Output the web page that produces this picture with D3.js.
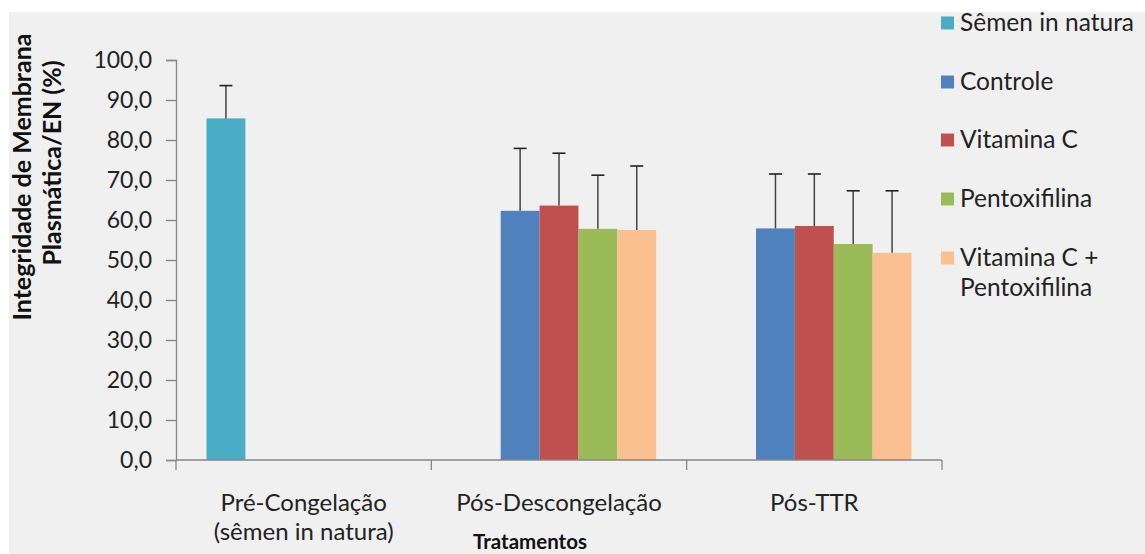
<!DOCTYPE html>
<html><head><meta charset="utf-8">
<script src="https://cdn.jsdelivr.net/npm/d3@7"></script>
<style>
html,body{margin:0;padding:0;background:#fff;}
svg{display:block;font-family:Lato, "Open Sans", sans-serif;}
</style></head>
<body><svg id="chart" width="1145" height="554"></svg>
<script>
const categories = ["Pré-Congelação|(sêmen in natura)", "Pós-Descongelação", "Pós-TTR"];
const seriesNames = ["Sêmen in natura", "Controle", "Vitamina C", "Pentoxifilina", "Vitamina C +|Pentoxifilina"];
const seriesColors = ["#4BACC6", "#4F81BD", "#C0504D", "#9BBB59", "#FAC090"];
// values per series across categories (null = no bar)
const semenValues      = [85.4, null, null];
const controleValues   = [null, 62.3, 57.9];
const vitCValues       = [null, 63.6, 58.5];
const pentoValues      = [null, 57.8, 54.0];
const vitCPentoValues  = [null, 57.5, 51.8];
const semenErr     = [8.2, null, null];
const controleErr  = [null, 15.6, 13.6];
const vitCErr      = [null, 13.1, 13.0];
const pentoErr     = [null, 13.4, 13.3];
const vitCPentoErr = [null, 16.0, 15.5];
const yTicks = [0,10,20,30,40,50,60,70,80,90,100];
const yTitle = ["Integridade de Membrana", "Plasmática/EN (%)"];
const xTitle = "Tratamentos";

(function(){
const values = [semenValues, controleValues, vitCValues, pentoValues, vitCPentoValues];
const errs = [semenErr, controleErr, vitCErr, pentoErr, vitCPentoErr];

const svg = d3.select("#chart");
svg.append("rect").attr("x",9).attr("y",12).attr("width",1145-9).attr("height",554-12).attr("fill","#f0f0f0");

const pLeft = 176, pRight = 942, pTop = 60, pBottom = 460;
const y = d3.scaleLinear().domain([0,100]).range([pBottom, pTop]);
const x0 = d3.scaleBand().domain(categories).range([pLeft, pRight]).paddingInner(0).paddingOuter(0);
const pad = 30.5;
const x1 = d3.scaleBand().domain(seriesNames).range([pad, x0.bandwidth()-pad]);

const axisColor = "#868686";
// y axis
const yAxis = svg.append("g").attr("transform",`translate(${pLeft},0)`)
  .call(d3.axisLeft(y).tickValues(yTicks).tickSize(10).tickPadding(14).tickFormat(d => d3.format(".1f")(d).replace(".",",")));
yAxis.select(".domain").attr("stroke",axisColor).attr("stroke-width",1.3);
yAxis.selectAll(".tick line").attr("stroke",axisColor).attr("stroke-width",1.3);
yAxis.selectAll(".tick text").attr("fill","#222").attr("font-size",23).attr("font-family","Lato");

// bars
values.forEach((vals, si) => {
  categories.forEach((c, ci) => {
    const v = vals[ci];
    if (v == null) return;
    const bx = x0(c) + x1(seriesNames[si]);
    svg.append("rect").attr("x", bx).attr("y", y(v)).attr("width", x1.bandwidth()).attr("height", y(0)-y(v))
      .attr("fill", seriesColors[si]);
  });
});

// error bars
values.forEach((vals, si) => {
  categories.forEach((c, ci) => {
    const v = vals[ci]; const e = errs[si][ci];
    if (v == null || e == null) return;
    const cx = x0(c) + x1(seriesNames[si]) + x1.bandwidth()/2;
    svg.append("line").attr("x1",cx).attr("x2",cx).attr("y1",y(v)).attr("y2",y(v+e)).attr("stroke","#444").attr("stroke-width",1.5);
    svg.append("line").attr("x1",cx-6.5).attr("x2",cx+6.5).attr("y1",y(v+e)).attr("y2",y(v+e)).attr("stroke","#222").attr("stroke-width",1.6);
  });
});

// x axis
const xAxisG = svg.append("g");
xAxisG.append("line").attr("x1",pLeft).attr("x2",pRight).attr("y1",pBottom).attr("y2",pBottom).attr("stroke",axisColor).attr("stroke-width",1.3);
const edges = categories.map(c => x0(c)).concat([pRight]);
edges.forEach(ex => xAxisG.append("line").attr("x1",ex).attr("x2",ex).attr("y1",pBottom).attr("y2",pBottom+10).attr("stroke",axisColor).attr("stroke-width",1.3));
categories.forEach(c => {
  const lines = c.split("|");
  const t = xAxisG.append("text").attr("x", x0(c)+x0.bandwidth()/2).attr("y", 511).attr("text-anchor","middle")
    .attr("font-size",24).attr("fill","#222");
  lines.forEach((l,i) => t.append("tspan").attr("x", x0(c)+x0.bandwidth()/2).attr("dy", i===0?0:29).text(l));
});

// x title
svg.append("text").attr("x",530).attr("y",549).attr("text-anchor","middle").attr("font-size",20.5).attr("font-weight","bold").attr("fill","#111").text(xTitle);

// y title
svg.append("text").attr("transform","translate(31,177) rotate(-90)").attr("text-anchor","middle").attr("font-size",25).attr("font-weight","bold").attr("fill","#111").text(yTitle[0]);
svg.append("text").attr("transform","translate(61,163) rotate(-90)").attr("text-anchor","middle").attr("font-size",25).attr("font-weight","bold").attr("fill","#111").text(yTitle[1]);

// legend
const legY = [23, 82, 140, 199, 258];
seriesNames.forEach((s, i) => {
  svg.append("rect").attr("x",941).attr("y",legY[i]-6.5).attr("width",13).attr("height",13).attr("fill",seriesColors[i]);
  const lines = s.split("|");
  const t = svg.append("text").attr("x",960).attr("y",legY[i]+8).attr("font-size",24.5).attr("fill","#222");
  lines.forEach((l,k) => t.append("tspan").attr("x",960).attr("dy",k===0?0:30).text(l));
});
})();
</script></body></html>
